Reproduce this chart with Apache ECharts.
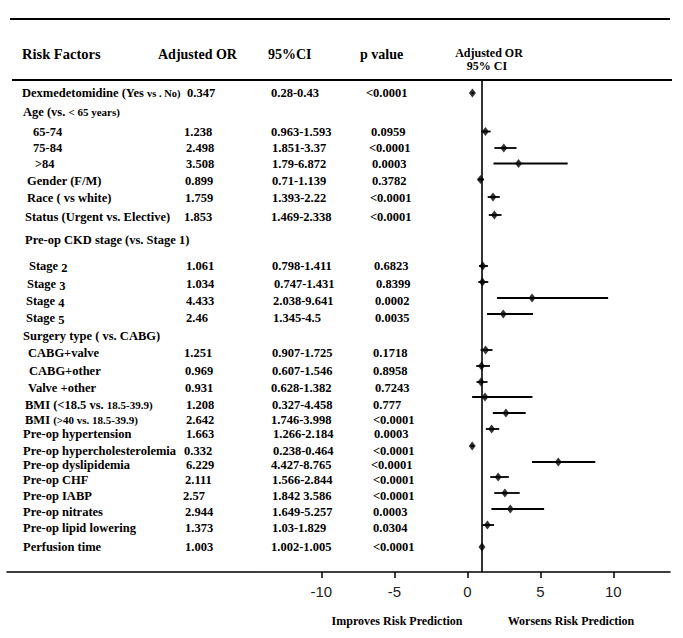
<!DOCTYPE html>
<html><head><meta charset="utf-8">
<script src="https://cdn.jsdelivr.net/npm/echarts@6/dist/echarts.min.js"></script>
<style>html,body{margin:0;padding:0;background:#fff}#c{width:683px;height:638px}</style>
</head><body><div id="c"></div>
<script>
// ---------- DATA ----------
const factors = [
  'Dexmedetomidine (Yes vs . No)', 'Age (vs. < 65 years)', '65-74', '75-84', '>84',
  'Gender (F/M)', 'Race ( vs white)', 'Status (Urgent vs. Elective)',
  'Pre-op CKD stage (vs. Stage 1)', 'Stage 2', 'Stage 3', 'Stage 4', 'Stage 5',
  'Surgery type ( vs. CABG)', 'CABG+valve', 'CABG+other', 'Valve +other',
  'BMI (<18.5 vs. 18.5-39.9)', 'BMI (>40 vs. 18.5-39.9)', 'Pre-op hypertension',
  'Pre-op hypercholesterolemia', 'Pre-op dyslipidemia', 'Pre-op CHF', 'Pre-op IABP',
  'Pre-op nitrates', 'Pre-op lipid lowering', 'Perfusion time'
];
const adjustedOR = [0.347, null, 1.238, 2.498, 3.508, 0.899, 1.759, 1.853, null, 1.061, 1.034, 4.433, 2.46,
  null, 1.251, 0.969, 0.931, 1.208, 2.642, 1.663, 0.332, 6.229, 2.111, 2.57, 2.944, 1.373, 1.003];
const ciLow = [0.28, null, 0.963, 1.851, 1.79, 0.71, 1.393, 1.469, null, 0.798, 0.747, 2.038, 1.345,
  null, 0.907, 0.607, 0.628, 0.327, 1.746, 1.266, 0.238, 4.427, 1.566, 1.842, 1.649, 1.03, 1.002];
const ciHigh = [0.43, null, 1.593, 3.37, 6.872, 1.139, 2.22, 2.338, null, 1.411, 1.431, 9.641, 4.5,
  null, 1.725, 1.546, 1.382, 4.458, 3.998, 2.184, 0.464, 8.765, 2.844, 3.586, 5.257, 1.829, 1.005];
const ciText = ['0.28-0.43', '', '0.963-1.593', '1.851-3.37', '1.79-6.872', '0.71-1.139', '1.393-2.22', '1.469-2.338',
  '', '0.798-1.411', '0.747-1.431', '2.038-9.641', '1.345-4.5', '', '0.907-1.725', '0.607-1.546', '0.628-1.382',
  '0.327-4.458', '1.746-3.998', '1.266-2.184', '0.238-0.464', '4.427-8.765', '1.566-2.844', '1.842 3.586',
  '1.649-5.257', '1.03-1.829', '1.002-1.005'];
const pValues = ['<0.0001', '', '0.0959', '<0.0001', '0.0003', '0.3782', '<0.0001', '<0.0001', '', '0.6823', '0.8399',
  '0.0002', '0.0035', '', '0.1718', '0.8958', '0.7243', '0.777', '<0.0001', '0.0003', '<0.0001', '<0.0001',
  '<0.0001', '<0.0001', '0.0003', '0.0304', '<0.0001'];
const orText = ['0.347', '', '1.238', '2.498', '3.508', '0.899', '1.759', '1.853', '', '1.061', '1.034', '4.433', '2.46',
  '', '1.251', '0.969', '0.931', '1.208', '2.642', '1.663', '0.332', '6.229', '2.111', '2.57', '2.944', '1.373', '1.003'];
const xTicks = [-10, -5, 0, 5, 10];
const headers = ['Risk Factors', 'Adjusted OR', '95%CI', 'p value'];
const plotHeader = ['Adjusted OR', '95% CI'];
const footers = ['Improves Risk Prediction', 'Worsens Risk Prediction'];

// ---------- LAYOUT ----------
const textY = [93, 112, 132, 148, 164, 181, 198, 217, 240, 266, 284, 301, 318, 336, 353, 371, 388, 405, 420, 434, 451, 465, 480, 496, 512, 528, 547];
const markY = [93, null, 131.5, 148, 163.5, 179.5, 197, 215, null, 266, 282, 298, 314, null, 350, 366, 382, 397, 413, 429, 446, 462, 477, 493, 509, 525, 547];
const labelX = [22, 23, 33, 33, 35, 27, 27, 25, 25, 29, 27, 26, 26, 23, 28, 29, 28, 25, 25, 23, 23, 23, 23, 23, 23, 23, 23];
const orX = [187, 0, 184, 186, 186, 185, 185, 184, 0, 186, 186, 186, 186, 0, 184, 185, 185, 186, 186, 186, 184, 186, 185, 183, 185, 185, 185];
const ciX = [271, 0, 271, 272, 272, 272, 272, 271, 0, 272, 274, 273, 273, 0, 272, 272, 271, 272, 271, 273, 273, 271, 272, 272, 272, 272, 271];
const pX = [366, 0, 371, 369, 372, 372, 370, 370, 0, 374, 376, 375, 375, 0, 373, 373, 375, 373, 373, 374, 373, 371, 373, 373, 373, 373, 373];
const smallFrom = { 0: 'vs . No)', 1: '< 65 years)', 17: '18.5-39.9)', 18: '(>40 vs. 18.5-39.9)' };
const SERIF = '"Liberation Serif", "Times New Roman", serif';
const FS = 12.5;

function richLabel(i) {
  const s = factors[i];
  const m = /^Stage (\d)$/.exec(s);
  if (m) return '{n|Stage }{d|' + m[1] + '}';
  if (smallFrom[i]) {
    const k = s.indexOf(smallFrom[i]);
    return '{n|' + s.slice(0, k) + '}{s|' + s.slice(k) + '}';
  }
  return '{n|' + s + '}';
}

const chart = echarts.init(document.getElementById('c'), null, { renderer: 'svg' });

const ciData = [], ptData = [], rowData = [];
for (let i = 0; i < factors.length; i++) {
  if (adjustedOR[i] != null) {
    ciData.push([ciLow[i], ciHigh[i], markY[i]]);
    ptData.push([adjustedOR[i], markY[i]]);
  }
  rowData.push([0, textY[i], i]);
}

const baseText = { fontFamily: SERIF, fontWeight: 'bold', fontSize: FS, fill: '#000', verticalAlign: 'middle', align: 'left' };

chart.setOption({
  animation: false,
  backgroundColor: '#fff',
  grid: { left: 7, right: 13, top: 80, bottom: 66 },
  xAxis: {
    type: 'value', min: -31.53, max: 13.88,
    axisLine: { lineStyle: { color: '#000', width: 1.6 } },
    axisTick: { customValues: xTicks, length: 6, lineStyle: { color: '#000', width: 1.5 } },
    axisLabel: { customValues: xTicks, fontFamily: '"Liberation Sans", Arial, sans-serif', fontSize: 15, color: '#222', margin: 12 },
    splitLine: { show: false }
  },
  yAxis: { type: 'value', min: 80, max: 572, inverse: true, show: false },
  series: [
    {
      type: 'custom', data: ciData, silent: true,
      renderItem: function (params, api) {
        const a = api.coord([api.value(0), api.value(2)]);
        const b = api.coord([api.value(1), api.value(2)]);
        return { type: 'line', shape: { x1: a[0], y1: a[1], x2: b[0], y2: b[1] }, style: { stroke: '#000', lineWidth: 1.8 } };
      }
    },
    {
      type: 'scatter', data: ptData, symbol: 'diamond', symbolSize: [7, 9],
      itemStyle: { color: '#000' }, silent: true,
      markLine: {
        silent: true, symbol: 'none', label: { show: false },
        lineStyle: { color: '#000', width: 1.6, type: 'solid' },
        data: [{ xAxis: 1 }]
      }
    },
    {
      type: 'custom', data: rowData, silent: true, clip: false,
      renderItem: function (params, api) {
        const i = api.value(2);
        const y = api.coord([0, api.value(1)])[1];
        const children = [{
          type: 'text', x: labelX[i], y: y,
          style: Object.assign({}, baseText, {
            text: richLabel(i),
            rich: {
              n: { fontFamily: SERIF, fontWeight: 'bold', fontSize: FS, color: '#000' },
              s: { fontFamily: SERIF, fontWeight: 'bold', fontSize: i === 0 ? 10.5 : 11, color: '#000' },
              d: { fontFamily: SERIF, fontWeight: 'bold', fontSize: FS, color: '#000', padding: [4, 0, 0, 0] }
            }
          })
        }];
        if (orText[i]) {
          children.push({ type: 'text', x: orX[i], y: y, style: Object.assign({}, baseText, { text: orText[i] }) });
          children.push({ type: 'text', x: ciX[i], y: y, style: Object.assign({}, baseText, { text: ciText[i] }) });
          children.push({ type: 'text', x: pX[i], y: y, style: Object.assign({}, baseText, { text: pValues[i] }) });
        }
        return { type: 'group', children: children };
      }
    }
  ],
  graphic: [
    { type: 'line', shape: { x1: 10, y1: 19, x2: 670, y2: 19 }, style: { stroke: '#000', lineWidth: 2 } },
    { type: 'line', shape: { x1: 12, y1: 80, x2: 672, y2: 80 }, style: { stroke: '#000', lineWidth: 2 } },
    { type: 'text', x: 22, y: 54, style: { text: headers[0], font: 'bold 14.5px ' + SERIF, fill: '#000', verticalAlign: 'middle' } },
    { type: 'text', x: 158, y: 54, style: { text: headers[1], font: 'bold 14px ' + SERIF, fill: '#000', verticalAlign: 'middle' } },
    { type: 'text', x: 268, y: 54, style: { text: headers[2], font: 'bold 14px ' + SERIF, fill: '#000', verticalAlign: 'middle' } },
    { type: 'text', x: 360, y: 54, style: { text: headers[3], font: 'bold 14px ' + SERIF, fill: '#000', verticalAlign: 'middle' } },
    { type: 'text', x: 489, y: 53, style: { text: plotHeader[0], font: 'bold 12px ' + SERIF, fill: '#000', align: 'center', verticalAlign: 'middle' } },
    { type: 'text', x: 487, y: 66, style: { text: plotHeader[1], font: 'bold 12px ' + SERIF, fill: '#000', align: 'center', verticalAlign: 'middle' } },
    { type: 'text', x: 397, y: 621, style: { text: footers[0], font: 'bold 12px ' + SERIF, fill: '#000', align: 'center', verticalAlign: 'middle' } },
    { type: 'text', x: 571, y: 621, style: { text: footers[1], font: 'bold 12px ' + SERIF, fill: '#000', align: 'center', verticalAlign: 'middle' } }
  ]
});
</script>
</body></html>
